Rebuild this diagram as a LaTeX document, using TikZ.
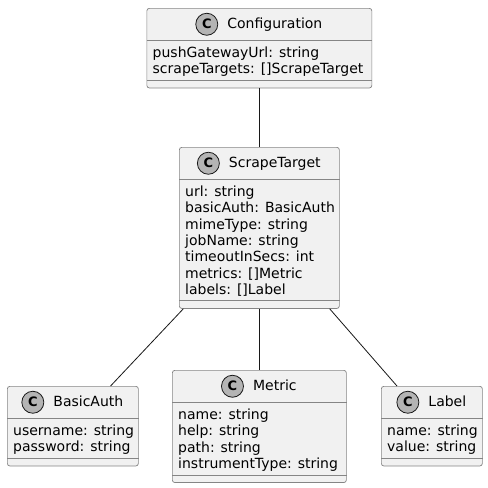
\documentclass[tikz,border=0pt]{standalone}
\usepackage{fontspec}
\setmainfont{DejaVu Sans}
\usepackage{tikz}
\usetikzlibrary{positioning}
\definecolor{umlfill}{HTML}{F1F1F1}
\definecolor{umlline}{HTML}{181818}
\definecolor{umlborder}{HTML}{858585}
\definecolor{umlicon}{HTML}{B4B4B4}

\tikzset{
  classbox/.style={draw=umlborder, fill=umlfill, line width=0.7pt, rounded corners=2.5pt,
    inner sep=0pt, anchor=north west},
  sepline/.style={draw=umlborder, line width=0.7pt},
  classname/.style={inner sep=0pt, text height=10.5pt, text depth=3pt, anchor=base},
  classicon/.style={circle, draw=umlline, fill=umlicon, line width=0.8pt, minimum size=22pt,
    inner sep=0pt, font=\bfseries\fontsize{13}{13}\selectfont},
  attr/.style={inner sep=0pt, anchor=base west},
  assoc/.style={draw=umlline, line width=0.8pt}
}

\begin{document}
\begin{tikzpicture}[x=1pt, y=-1pt, font=\fontsize{14}{16.3}\selectfont]
  \useasboundingbox[fill=white] (0,0) rectangle (488,488);

  % class boxes
  \node[classbox, minimum width=225, minimum height=79.6] (cfg) at (146.5,8) {};
  \node[classbox, minimum width=160, minimum height=161.1] (st) at (179,147) {};
  \node[classbox, minimum width=131, minimum height=79.6] (ba) at (7,386) {};
  \node[classbox, minimum width=174, minimum height=112.2] (met) at (172,370) {};
  \node[classbox, minimum width=101, minimum height=79.6] (lab) at (381,386) {};

  \foreach \c in {cfg,st,ba,met,lab} {
    \draw[sepline] ([yshift=-32pt]\c.north west) -- ([yshift=-32pt]\c.north east);
    \draw[sepline] ([yshift=8pt]\c.south west) -- ([yshift=8pt]\c.south east);
  }

  % class names
  \node[classname] (cfgname) at ([xshift=15.5pt,yshift=-20pt]cfg.north) {Configuration};
  \node[classicon, left=9pt of cfgname] (cfgicon) {C};
  \node[classname] (stname) at ([xshift=15.5pt,yshift=-20pt]st.north) {ScrapeTarget};
  \node[classicon, left=9pt of stname] (sticon) {C};
  \node[classname] (baname) at ([xshift=15.5pt,yshift=-20pt]ba.north) {BasicAuth};
  \node[classicon, left=9pt of baname] (baicon) {C};
  \node[classname] (metname) at ([xshift=15.5pt,yshift=-20pt]met.north) {Metric};
  \node[classicon, left=9pt of metname] (meticon) {C};
  \node[classname] (labname) at ([xshift=15.5pt,yshift=-20pt]lab.north) {Label};
  \node[classicon, left=9pt of labname] (labicon) {C};

  % fields
  \foreach \t [count=\i] in {pushGatewayUrl: string, scrapeTargets: []ScrapeTarget}
    \node[attr] (cfg-a\i) at ([xshift=6pt,yshift={-(49.5+16.3*(\i-1))*1pt}]cfg.north west) {\t};
  \foreach \t [count=\i] in {url: string, basicAuth: BasicAuth, mimeType: string, jobName: string,
      timeoutInSecs: int, metrics: []Metric, labels: []Label}
    \node[attr] (st-a\i) at ([xshift=6pt,yshift={-(49.5+16.3*(\i-1))*1pt}]st.north west) {\t};
  \foreach \t [count=\i] in {username: string, password: string}
    \node[attr] (ba-a\i) at ([xshift=6pt,yshift={-(49.5+16.3*(\i-1))*1pt}]ba.north west) {\t};
  \foreach \t [count=\i] in {name: string, help: string, path: string, instrumentType: string}
    \node[attr] (met-a\i) at ([xshift=6pt,yshift={-(49.5+16.3*(\i-1))*1pt}]met.north west) {\t};
  \foreach \t [count=\i] in {name: string, value: string}
    \node[attr] (lab-a\i) at ([xshift=6pt,yshift={-(49.5+16.3*(\i-1))*1pt}]lab.north west) {\t};

  % associations
  \draw[assoc] (cfg) -- (st);
  \draw[assoc] (st) -- (ba);
  \draw[assoc] (st) -- (met);
  \draw[assoc] (st) -- (lab);
\end{tikzpicture}
\end{document}
